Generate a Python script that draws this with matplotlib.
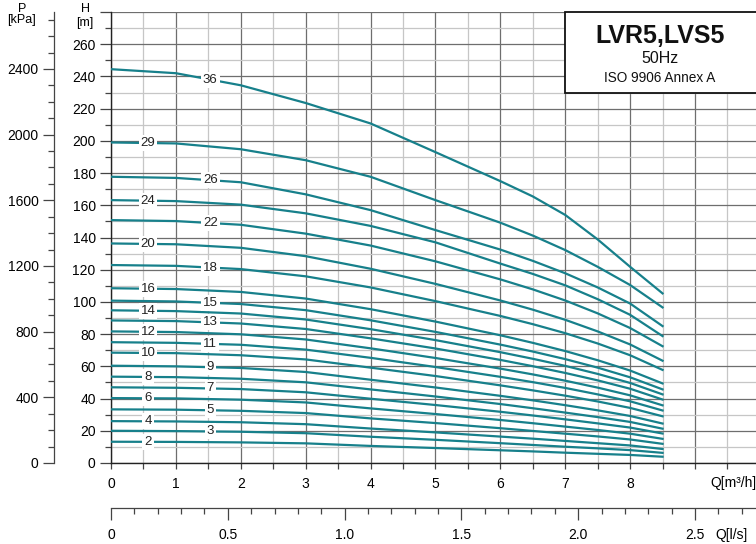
import numpy as np
import matplotlib.pyplot as plt
from matplotlib.patches import Rectangle
from matplotlib.ticker import MultipleLocator, FixedLocator, FixedFormatter

plt.rcParams['font.family'] = ['Liberation Sans', 'DejaVu Sans']

# caudal [m3/h] donde se leyeron los puntos de cada curva
q = [0, 1, 2, 3, 4, 5, 6, 6.5, 7, 7.5, 8, 8.5]

# altura H [m] para cada numero de etapas
h_2 = [13.2, 13.1, 12.8, 12.2, 10.6, 9.3, 7.9, 7.2, 6.4, 5.7, 5.0, 3.9]
h_3 = [20.0, 19.8, 19.4, 18.5, 16.3, 14.4, 12.3, 11.2, 10.1, 9.1, 8.0, 6.3]
h_4 = [26.0, 25.8, 25.3, 24.1, 21.4, 19.0, 16.4, 15.1, 13.7, 12.3, 10.9, 8.7]
h_5 = [33.3, 33.1, 32.4, 31.0, 27.7, 24.8, 21.6, 19.9, 18.2, 16.5, 14.6, 11.9]
h_6 = [40.3, 40.1, 39.3, 37.6, 33.9, 30.4, 26.7, 24.7, 22.6, 20.5, 18.2, 15.0]
h_7 = [47.0, 46.7, 45.9, 43.9, 39.9, 36.0, 31.8, 29.5, 27.1, 24.6, 22.0, 18.3]
h_8 = [53.6, 53.3, 52.3, 50.1, 45.7, 41.3, 36.6, 34.0, 31.3, 28.5, 25.5, 21.3]
h_9 = [60.4, 60.0, 59.0, 56.5, 51.7, 46.9, 41.7, 38.9, 35.9, 32.7, 29.2, 24.5]
h_10 = [68.5, 68.2, 66.9, 64.3, 59.2, 54.0, 48.2, 45.1, 41.8, 38.2, 34.2, 29.0]
h_11 = [75.0, 74.6, 73.4, 70.4, 65.3, 59.6, 53.5, 50.2, 46.6, 42.6, 38.3, 32.6]
h_12 = [81.7, 81.3, 79.9, 76.7, 71.2, 65.2, 58.6, 55.0, 51.1, 46.8, 42.0, 35.8]
h_13 = [88.5, 88.1, 86.6, 83.2, 77.4, 71.1, 64.0, 60.1, 55.9, 51.3, 46.1, 39.4]
h_14 = [94.8, 94.3, 92.8, 89.1, 83.1, 76.3, 68.8, 64.7, 60.3, 55.3, 49.7, 42.6]
h_15 = [100.8, 100.3, 98.7, 94.9, 88.6, 81.4, 73.5, 69.2, 64.5, 59.2, 53.2, 45.7]
h_16 = [108.5, 108.0, 106.2, 102.1, 95.5, 87.8, 79.3, 74.6, 69.5, 63.8, 57.4, 49.4]
h_18 = [122.9, 122.4, 120.4, 115.9, 109.0, 100.5, 91.3, 86.2, 80.6, 74.2, 66.9, 57.8]
h_20 = [136.3, 135.8, 133.6, 128.4, 120.6, 111.2, 100.9, 95.2, 88.9, 81.7, 73.6, 63.5]
h_22 = [150.8, 150.2, 147.9, 142.4, 135.0, 125.2, 114.0, 107.8, 100.9, 92.9, 83.8, 72.5]
h_24 = [163.2, 162.6, 160.4, 155.0, 147.2, 137.0, 123.8, 117.4, 110.3, 101.7, 92.0, 78.8]
h_26 = [177.7, 177.0, 174.3, 166.8, 157.0, 144.6, 132.5, 125.5, 117.8, 109.0, 99.0, 85.0]
h_29 = [199.0, 198.4, 194.8, 188.0, 177.7, 163.2, 149.2, 141.2, 132.2, 121.8, 110.5, 96.6]
h_36 = [244.5, 242.0, 234.5, 223.5, 210.8, 193.0, 175.0, 165.5, 154.0, 138.8, 121.8, 105.3]

curves = [(2, h_2), (3, h_3), (4, h_4), (5, h_5), (6, h_6), (7, h_7),
          (8, h_8), (9, h_9), (10, h_10), (11, h_11), (12, h_12),
          (13, h_13), (14, h_14), (15, h_15), (16, h_16), (18, h_18),
          (20, h_20), (22, h_22), (24, h_24), (26, h_26), (29, h_29),
          (36, h_36)]

# etiquetas en la columna izquierda / central
left_labels = [2, 4, 6, 8, 10, 12, 14, 16, 20, 24, 29]
mid_labels = [3, 5, 7, 9, 11, 13, 15, 18, 22, 26, 36]

# marcas de los ejes
q_ticks = [0, 1, 2, 3, 4, 5, 6, 7, 8, 9]
q_tick_labels = ['0', '1', '2', '3', '4', '5', '6', '7', '8', '']
h_ticks = list(range(0, 281, 20))
h_tick_labels = [str(v) for v in range(0, 261, 20)] + ['']
kpa_per_m = 9.81
ls_ticks = [0, 0.5, 1.0, 1.5, 2.0, 2.5]
ls_tick_labels = ['0', '0.5', '1.0', '1.5', '2.0', '2.5']

W, H = 756, 544
xmax = 9.94
ymax = 280
teal = '#17808b'

fig = plt.figure(figsize=(W / 100, H / 100), dpi=100)
left = 111 / W
bottom = 1 - 463 / H
height = (463 - 12) / H

ax = fig.add_axes([left, bottom, 1 - left, height])
ax.set_xlim(0, xmax)
ax.set_ylim(0, ymax)

# rejilla
ax.xaxis.set_major_locator(FixedLocator(q_ticks))
ax.xaxis.set_major_formatter(FixedFormatter(q_tick_labels))
ax.xaxis.set_minor_locator(MultipleLocator(0.5))
ax.yaxis.set_major_locator(FixedLocator(h_ticks))
ax.yaxis.set_major_formatter(FixedFormatter(h_tick_labels))
ax.yaxis.set_minor_locator(MultipleLocator(10))
ax.grid(which='major', color='#6e6e6e', lw=0.9)
ax.grid(which='minor', color='#c6c6c6', lw=0.9)
ax.set_axisbelow(True)

for s in ['top', 'right']:
    ax.spines[s].set_visible(False)
for s in ['left', 'bottom']:
    ax.spines[s].set_color('#222222')
    ax.spines[s].set_linewidth(1.0)

ax.tick_params(axis='x', which='both', direction='out', length=4, width=0.9,
               color='#444444', labelsize=10, pad=6)
ax.tick_params(axis='y', which='major', direction='out', length=8, width=0.9,
               color='#444444', labelsize=10, pad=3)
ax.tick_params(axis='y', which='minor', direction='out', length=4, width=0.9,
               color='#444444')

# curvas
for n, h in curves:
    ax.plot(q, h, color=teal, lw=1.6, zorder=3, solid_joinstyle='round')

label_box = dict(boxstyle='square,pad=0.15', fc='white', ec='none')
for n, h in curves:
    ql = 0.57 if n in left_labels else 1.53
    yl = np.interp(ql, q, h)
    ax.text(ql, yl, str(n), ha='center', va='center', fontsize=9.5,
            color='#222222', bbox=label_box, zorder=4)

# recuadro del titulo
ax.add_patch(Rectangle((7, 230), 3.5, 50, fc='white', ec='#111111', lw=1.3,
                       zorder=5, clip_on=False))
ax.text(8.46, 265.0, 'LVR5,LVS5', ha='center', va='center', fontsize=18,
        fontweight='bold', color='#111111', zorder=6)
ax.text(8.46, 251.0, '50Hz', ha='center', va='center', fontsize=11.5,
        color='#111111', zorder=6)
ax.text(8.46, 238.8, 'ISO 9906 Annex A', ha='center', va='center', fontsize=9.8,
        color='#111111', zorder=6)

# eje de presion P [kPa]
axp = fig.add_axes([54 / W, bottom, 0.001, height])
axp.set_facecolor('none')
axp.set_ylim(0, ymax * kpa_per_m)
axp.yaxis.set_major_locator(MultipleLocator(400))
axp.yaxis.set_minor_locator(MultipleLocator(100))
axp.set_xticks([])
for s in ['top', 'right', 'bottom']:
    axp.spines[s].set_visible(False)
axp.spines['left'].set_color('#444444')
axp.spines['left'].set_linewidth(0.9)
axp.tick_params(axis='y', which='major', direction='out', length=8, width=0.9,
                color='#444444', labelsize=10, pad=3)
axp.tick_params(axis='y', which='minor', direction='out', length=4, width=0.9,
                color='#444444')

# eje de caudal Q [l/s]
axl = fig.add_axes([left, 1 - 508 / H, 1 - left, 0.001])
axl.set_facecolor('none')
axl.set_xlim(0, xmax / 3.6)
axl.xaxis.set_major_locator(FixedLocator(ls_ticks))
axl.xaxis.set_major_formatter(FixedFormatter(ls_tick_labels))
axl.xaxis.set_minor_locator(MultipleLocator(0.1))
axl.set_yticks([])
for s in ['top', 'right', 'left']:
    axl.spines[s].set_visible(False)
axl.spines['bottom'].set_color('#444444')
axl.spines['bottom'].set_linewidth(0.9)
axl.tick_params(axis='x', which='major', direction='out', length=8.5, width=0.9,
                color='#444444', labelsize=10, pad=6)
axl.tick_params(axis='x', which='minor', direction='out', length=4, width=0.9,
                color='#444444')

# rotulos de los ejes
fig.text(22 / W, 1 - 9 / H, 'P', ha='center', va='center', fontsize=9)
fig.text(22 / W, 1 - 20 / H, '[kPa]', ha='center', va='center', fontsize=9)
fig.text(85 / W, 1 - 9 / H, 'H', ha='center', va='center', fontsize=9)
fig.text(85 / W, 1 - 23 / H, '[m]', ha='center', va='center', fontsize=9)
fig.text(710 / W, 1 - 483 / H, 'Q[m³/h]', ha='left', va='center', fontsize=10)
fig.text(715 / W, 1 - 535 / H, 'Q[l/s]', ha='left', va='center', fontsize=10)

fig.savefig('out.png', dpi=100)
